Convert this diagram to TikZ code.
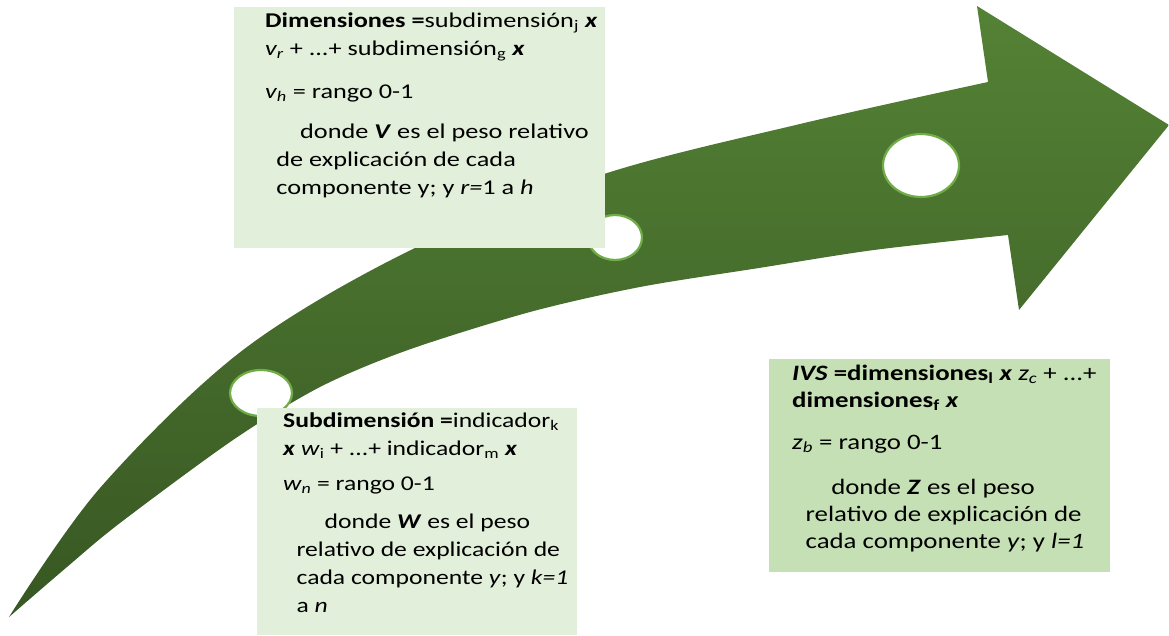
\documentclass[tikz,border=0pt]{standalone}
\usepackage{fontspec}
\setmainfont{Carlito}
\usepackage{xcolor}
\usetikzlibrary{shapes.geometric}
\definecolor{arrowtop}{HTML}{548235}
\definecolor{arrowbot}{HTML}{385723}
\definecolor{holeline}{HTML}{70AD47}
\definecolor{palebox}{HTML}{E2EFDA}
\definecolor{deepbox}{HTML}{C5E0B4}
\newcommand{\stretchtext}[2][1.22]{\scalebox{#1}[1]{\begin{tabular}{@{}l@{}}#2\end{tabular}}}

\begin{document}
\begin{tikzpicture}[x=1pt, y=1pt,
  hole/.style={ellipse, draw=holeline, line width=2.2pt, fill=white, inner sep=0pt},
  formbox/.style={rectangle, inner sep=0pt, draw=none, anchor=north west},
  formtext/.style={anchor=north west, inner sep=0pt, text=black, font=\fontsize{21}{28}\selectfont}]
\useasboundingbox (0,0) rectangle (1169,635);
% arrow
\shade[top color=arrowtop, bottom color=arrowbot]
  plot[smooth, tension=0.55] coordinates {(9,18) (100,147) (243,285) (415,387) (604,461) (800,511) (988,553)}
  -- (977,629) -- (1169,510) -- (1019,325) -- (1008,400)
  -- plot[smooth, tension=0.5] coordinates {(1008,400) (874,385) (759,367) (640,348) (530,323) (408,285) (320,248) (233,195) (120,112) (67,68) (9,18)}
  -- cycle;
\node[hole, minimum width=62pt, minimum height=46pt] (hole1) at (261,242) {};
\node[hole, minimum width=54pt, minimum height=45pt] (hole2) at (615,397.5) {};
\node[hole, minimum width=76pt, minimum height=63pt] (hole3) at (921,469.5) {};
% boxes
\node[formbox, fill=palebox, minimum width=371pt, minimum height=241pt] (dimbox) at (234,628) {};
\node[formbox, fill=palebox, minimum width=320pt, minimum height=227pt] (subbox) at (257,227) {};
\node[formbox, fill=deepbox, minimum width=341pt, minimum height=213pt] (ivsbox) at (769,276) {};
% texts
\node[formtext] (dimtext) at ([xshift=31pt, yshift=-1pt]dimbox.north west) {\stretchtext[1.25]{%
  \textbf{Dimensiones =}subdimensión\textsubscript{j} \textbf{\textit{x}}\\
  \textit{v\textsubscript{r}} + ...+ subdimensión\textsubscript{g} \textbf{\textit{x}}\\[15pt]
  \textit{v\textsubscript{h}} = rango 0-1\\[12pt]
  \hspace*{28pt}donde \textbf{\textit{V}} es el peso relativo\\
  \hspace*{9pt}de explicación de cada\\
  \hspace*{9pt}componente y; y \textit{r=}1 a \textit{h}}};
\node[formtext] (subtext) at ([xshift=26pt, yshift=0pt]subbox.north west) {\stretchtext{%
  \textbf{Subdimensión =}indicador\textsubscript{k}\\
  \textbf{\textit{x}} \textit{w}\textsubscript{i} + ...+ indicador\textsubscript{m} \textbf{\textit{x}}\\[7pt]
  \textit{w\textsubscript{n}} = rango 0-1\\[10pt]
  \hspace*{34pt}donde \textbf{\textit{W}} es el peso\\
  \hspace*{11pt}relativo de explicación de\\
  \hspace*{11pt}cada componente \textit{y}; y \textit{k=1}\\
  \hspace*{11pt}a \textit{n}}};
\node[formtext, font=\fontsize{22}{27}\selectfont] (ivstext) at ([xshift=23pt, yshift=-2pt]ivsbox.north west) {\stretchtext{%
  \textbf{\textit{IVS} =dimensiones\textsubscript{l} \textit{x}} \textit{z\textsubscript{c}} + ...+\\
  \textbf{dimensiones\textsubscript{f} \textit{x}}\\[15pt]
  \textit{z\textsubscript{b}} = rango 0-1\\[18pt]
  \hspace*{32pt}donde \textbf{\textit{Z}} es el peso\\
  \hspace*{11pt}relativo de explicación de\\
  \hspace*{11pt}cada componente \textit{y}; y \textit{l=1}}};
\end{tikzpicture}
\end{document}
